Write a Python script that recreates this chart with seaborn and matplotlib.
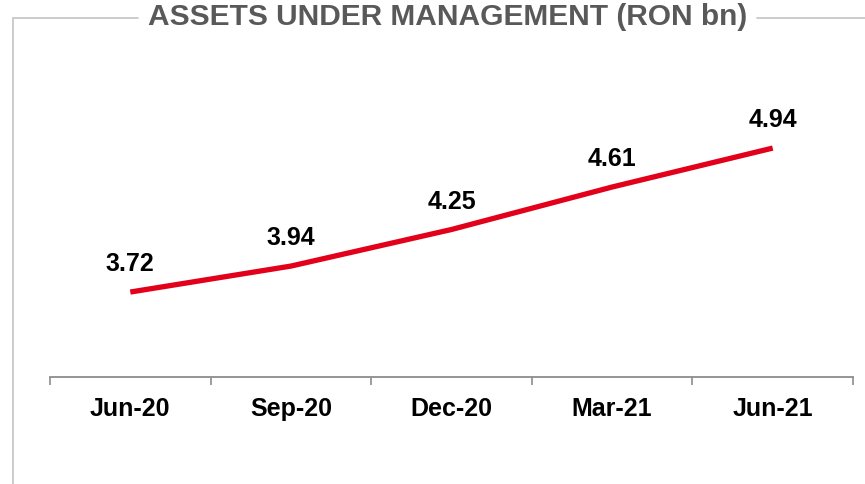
import matplotlib
matplotlib.use("Agg")
import matplotlib.pyplot as plt
import seaborn as sns
import pandas as pd
from matplotlib.lines import Line2D

categories = ["Jun-20", "Sep-20", "Dec-20", "Mar-21", "Jun-21"]
values = [3.72, 3.94, 4.25, 4.61, 4.94]
title = "ASSETS UNDER MANAGEMENT (RON bn)"

sns.set_theme(style="white")
plt.rcParams["font.family"] = ["Liberation Sans", "DejaVu Sans"]

W, H = 865, 484
fig = plt.figure(figsize=(W / 100, H / 100), dpi=100)
ax = fig.add_axes([50 / W, 1 - 377 / H, (853 - 50) / W, (377 - 40) / H])

df = pd.DataFrame({"cat": categories, "val": values, "pos": range(len(categories))})
sns.lineplot(data=df, x="pos", y="val", ax=ax, color="#E2001A", linewidth=3.8,
             solid_capstyle="butt", solid_joinstyle="round")

for x, v in zip(df["pos"], df["val"]):
    ax.annotate(f"{v:.2f}", (x, v), xytext=(0, 20), textcoords="offset points",
                ha="center", va="center", fontsize=18, fontweight="bold", color="black")

ax.set_xlim(-0.5, len(categories) - 0.5)
ax.set_ylim(3.0, 3.0 + 337 / 118)
ax.set_xlabel("")
ax.set_ylabel("")
ax.set_yticks([])
ax.set_xticks(list(df["pos"]))
ax.set_xticklabels(categories, fontsize=18, fontweight="bold", color="black")
ax.set_xticks([i - 0.5 for i in range(len(categories) + 1)], minor=True)
ax.tick_params(axis="x", which="major", length=0, pad=14.5)
ax.tick_params(axis="x", which="minor", length=6, width=1.2, color="#8C8C8C", direction="out", bottom=True)
for s in ["top", "right", "left"]:
    ax.spines[s].set_visible(False)
ax.spines["bottom"].set_color("#8C8C8C")
ax.spines["bottom"].set_linewidth(1.3)

# frame lines around title
fc = "#C8C8C8"
fig.add_artist(Line2D([13 / W, 13 / W], [0, 1 - 18 / H], transform=fig.transFigure, color=fc, linewidth=1.3))
fig.add_artist(Line2D([13 / W, 138 / W], [1 - 18 / H, 1 - 18 / H], transform=fig.transFigure, color=fc, linewidth=1.3))
fig.add_artist(Line2D([757 / W, 1], [1 - 18 / H, 1 - 18 / H], transform=fig.transFigure, color=fc, linewidth=1.3))

fig.text(448 / W, 1 - 17 / H, title, ha="center", va="center", fontsize=21.5,
         fontweight="bold", color="#595959")

fig.savefig("out.png", dpi=100, facecolor="white")
